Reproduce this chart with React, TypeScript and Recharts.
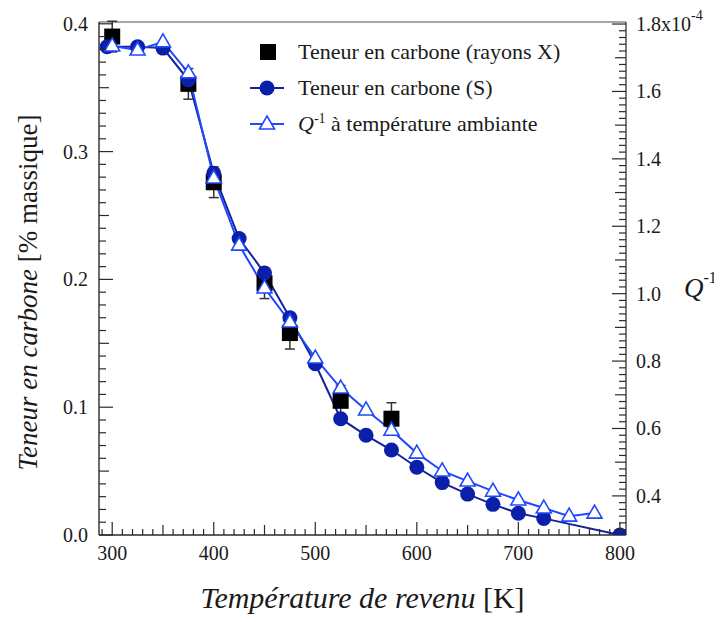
import React from "react";
import {
  ComposedChart, Line, Scatter, XAxis, YAxis, ErrorBar, Legend, Label, ReferenceLine,
} from "recharts";

const FONT = "'Liberation Serif', 'DejaVu Serif', serif";
const INK = "#1a1a1a";
const AXIS = "#2a2a2a";

// Teneur en carbone (S) — tempering temperature [K] / carbon [% mass]
const tempS = [295, 325, 350, 375, 400, 425, 450, 475, 500, 525, 550, 575, 600, 625, 650, 675, 700, 725, 800];
const carbonS = [0.382, 0.382, 0.381, 0.356, 0.283, 0.232, 0.205, 0.170, 0.134, 0.091, 0.078, 0.0665, 0.053, 0.041, 0.032, 0.024, 0.017, 0.013, 0];

// Teneur en carbone (rayons X), with error
const tempX = [300, 375, 400, 450, 475, 525, 575];
const carbonX = [0.390, 0.353, 0.276, 0.197, 0.158, 0.105, 0.091];
const carbonXErr = [0.012, 0.012, 0.012, 0.012, 0.0125, 0.012, 0.0125];

// Q^-1 at room temperature (x1e-4)
const tempQ = [300, 325, 350, 375, 400, 425, 450, 475, 500, 525, 550, 575, 600, 625, 650, 675, 700, 725, 750, 775];
const qInv = [1.735, 1.723, 1.747, 1.655, 1.343, 1.144, 1.017, 0.916, 0.809, 0.720, 0.655, 0.595, 0.527, 0.474, 0.444, 0.414, 0.388, 0.364, 0.340, 0.349];

const xLabels = [300, 400, 500, 600, 700, 800];
const leftLabels = [0.0, 0.1, 0.2, 0.3, 0.4];
const rightLabels = [0.4, 0.6, 0.8, 1.0, 1.2, 1.4, 1.6, 1.8];

const X_DOMAIN: [number, number] = [287, 806];
const LEFT_DOMAIN: [number, number] = [0, 0.4014];
const RIGHT_DOMAIN: [number, number] = [0.284, 1.806];

const xTicks: number[] = [];
for (let k = 29; k <= 80; k++) xTicks.push(k * 10);
const leftTicks: number[] = [];
for (let k = 0; k <= 40; k++) leftTicks.push(k / 100);
const rightTicks: number[] = [];
for (let k = 15; k <= 90; k++) rightTicks.push((k * 2) / 100);

const sData = tempS.map((x, i) => ({ x, y: carbonS[i] }));
const xrData = tempX.map((x, i) => ({ x, y: carbonX[i], err: carbonXErr[i] }));
const qData = tempQ.map((x, i) => ({ x, y: qInv[i] }));

const MARGIN = 11;

function XTick(props: any) {
  const { x, y, payload } = props;
  const v = Math.round(payload.value);
  const axisY = y - MARGIN;
  const len = v % 100 === 0 ? 13 : v % 50 === 0 ? 10 : 6;
  return (
    <g>
      <line x1={x} x2={x} y1={axisY} y2={axisY - len} stroke={AXIS} strokeWidth={1.2} />
      {xLabels.includes(v) && (
        <text x={x} y={axisY + 25} textAnchor="middle" fontFamily={FONT} fontSize={20} fill={INK}>
          {v}
        </text>
      )}
    </g>
  );
}

function LeftTick(props: any) {
  const { x, y, payload } = props;
  const k = Math.round(payload.value * 100);
  const axisX = x + MARGIN;
  const len = k % 10 === 0 ? 14 : k % 5 === 0 ? 10 : 7;
  const label = leftLabels.find((l) => Math.round(l * 100) === k);
  return (
    <g>
      <line x1={axisX} x2={axisX + len} y1={y} y2={y} stroke={AXIS} strokeWidth={1.2} />
      {label !== undefined && (
        <text x={x} y={y + 7} textAnchor="end" fontFamily={FONT} fontSize={20} fill={INK}>
          {label.toFixed(1)}
        </text>
      )}
    </g>
  );
}

function RightTick(props: any) {
  const { x, y, payload } = props;
  const k = Math.round(payload.value * 100);
  const axisX = x - MARGIN;
  const len = k % 20 === 0 ? 14 : k % 10 === 0 ? 11 : 7;
  const label = rightLabels.find((l) => Math.round(l * 100) === k);
  return (
    <g>
      <line x1={axisX} x2={axisX - len} y1={y} y2={y} stroke={AXIS} strokeWidth={1.2} />
      {label !== undefined && (
        <text x={x - 1} y={y + 7} textAnchor="start" fontFamily={FONT} fontSize={20} fill={INK}>
          {label.toFixed(1)}
          {k === 180 && <tspan>x10</tspan>}
          {k === 180 && <tspan dy={-11} fontSize={14}>-4</tspan>}
        </text>
      )}
    </g>
  );
}

function XTitle(props: any) {
  const vb = props.viewBox ?? { x: 99, y: 535, width: 527, height: 87 };
  return (
    <text x={vb.x + vb.width / 2} y={vb.y + 73} textAnchor="middle" fontFamily={FONT} fontSize={30} fill={INK}>
      <tspan fontStyle="italic">Température de revenu</tspan>
      <tspan> [K]</tspan>
    </text>
  );
}

function LeftTitle(props: any) {
  const vb = props.viewBox ?? { x: 0, y: 22, width: 99, height: 513 };
  const cx = vb.x + 37;
  const cy = vb.y + vb.height / 2 + 14;
  return (
    <text x={cx} y={cy} transform={`rotate(-90, ${cx}, ${cy})`} textAnchor="middle" fontFamily={FONT} fontSize={27} fill={INK}>
      <tspan fontStyle="italic">Teneur en carbone</tspan>
      <tspan> [% massique]</tspan>
    </text>
  );
}

function RightTitle(props: any) {
  const vb = props.viewBox ?? { x: 626, y: 22, width: 96, height: 513 };
  return (
    <text x={vb.x + 58} y={vb.y + 275} fontFamily={FONT} fontSize={27} fill={INK}>
      <tspan fontStyle="italic">Q</tspan>
      <tspan dy={-14} fontSize={16}>-1</tspan>
    </text>
  );
}

function Triangle(props: any) {
  const { cx, cy, index } = props;
  if (cx == null || cy == null) return <g key={index} />;
  return (
    <path
      key={index}
      d={`M${cx},${cy - 8} L${cx + 7.5},${cy + 5} L${cx - 7.5},${cy + 5} Z`}
      fill="#fff"
      stroke="#1f48ff"
      strokeWidth={1.6}
    />
  );
}

function Square(props: any) {
  const { cx, cy } = props;
  return <rect x={cx - 8} y={cy - 8} width={16} height={16} fill="#000" />;
}

function LegendContent() {
  const row = { display: "flex", alignItems: "center", height: 36 } as const;
  return (
    <div style={{ fontFamily: FONT, fontSize: 22, color: INK, whiteSpace: "nowrap" }}>
      <div style={row}>
        <svg width={44} height={36}>
          <rect x={14} y={10} width={16} height={16} fill="#000" />
        </svg>
        <span style={{ marginLeft: 8 }}>Teneur en carbone (rayons X)</span>
      </div>
      <div style={row}>
        <svg width={44} height={36}>
          <line x1={4} x2={38} y1={18} y2={18} stroke="#13239a" strokeWidth={2} />
          <circle cx={21} cy={18} r={7.5} fill="#0b1fa8" />
        </svg>
        <span style={{ marginLeft: 8 }}>Teneur en carbone (S)</span>
      </div>
      <div style={row}>
        <svg width={44} height={36}>
          <line x1={4} x2={38} y1={18} y2={18} stroke="#1f48ff" strokeWidth={2} />
          <path d="M21,10 L28.5,23 L13.5,23 Z" fill="#fff" stroke="#1f48ff" strokeWidth={1.6} />
        </svg>
        <span style={{ marginLeft: 8 }}>
          <i>Q</i>
          <sup style={{ fontSize: 14 }}>-1</sup> à température ambiante
        </span>
      </div>
    </div>
  );
}

export default function App() {
  return (
    <div style={{ margin: -8, width: 722, height: 622 }}>
      <ComposedChart width={722} height={622} margin={{ top: 22, right: 0, bottom: 0, left: 0 }}>
        <XAxis
          type="number"
          dataKey="x"
          domain={X_DOMAIN}
          allowDataOverflow
          ticks={xTicks}
          interval={0}
          tick={<XTick />}
          tickSize={0}
          tickMargin={MARGIN}
          height={87}
          axisLine={{ stroke: AXIS, strokeWidth: 1.4 }}
        >
          <Label content={<XTitle />} />
        </XAxis>
        <YAxis
          yAxisId="left"
          type="number"
          domain={LEFT_DOMAIN}
          allowDataOverflow
          ticks={leftTicks}
          interval={0}
          tick={<LeftTick />}
          tickSize={0}
          tickMargin={MARGIN}
          width={99}
          axisLine={{ stroke: AXIS, strokeWidth: 1.4 }}
        >
          <Label content={<LeftTitle />} />
        </YAxis>
        <YAxis
          yAxisId="right"
          orientation="right"
          type="number"
          domain={RIGHT_DOMAIN}
          allowDataOverflow
          ticks={rightTicks}
          interval={0}
          tick={<RightTick />}
          tickSize={0}
          tickMargin={MARGIN}
          width={96}
          axisLine={{ stroke: "#444", strokeWidth: 1.4 }}
        >
          <Label content={<RightTitle />} />
        </YAxis>
        <ReferenceLine yAxisId="left" y={LEFT_DOMAIN[1]} stroke="#888" strokeWidth={1.4} />
        <Legend
          layout="vertical"
          align="center"
          verticalAlign="middle"
          content={<LegendContent />}
          wrapperStyle={{ top: 34, left: 246, width: "auto" }}
        />
        <Line
          yAxisId="left"
          data={sData}
          dataKey="y"
          name="Teneur en carbone (S)"
          type="linear"
          stroke="#13239a"
          strokeWidth={2}
          dot={{ r: 7.5, fill: "#0b1fa8", stroke: "#0b1fa8", strokeWidth: 0 }}
          activeDot={false}
          isAnimationActive={false}
        />
        <Line
          yAxisId="right"
          data={qData}
          dataKey="y"
          name="Q-1 à température ambiante"
          type="linear"
          stroke="#1f48ff"
          strokeWidth={2}
          dot={(p: any) => <Triangle key={p.index} {...p} />}
          activeDot={false}
          isAnimationActive={false}
        />
        <Scatter
          yAxisId="left"
          data={xrData}
          dataKey="y"
          name="Teneur en carbone (rayons X)"
          shape={<Square />}
          isAnimationActive={false}
        >
          <ErrorBar dataKey="err" direction="y" width={5} stroke="#333" strokeWidth={1.5} />
        </Scatter>
      </ComposedChart>
    </div>
  );
}
